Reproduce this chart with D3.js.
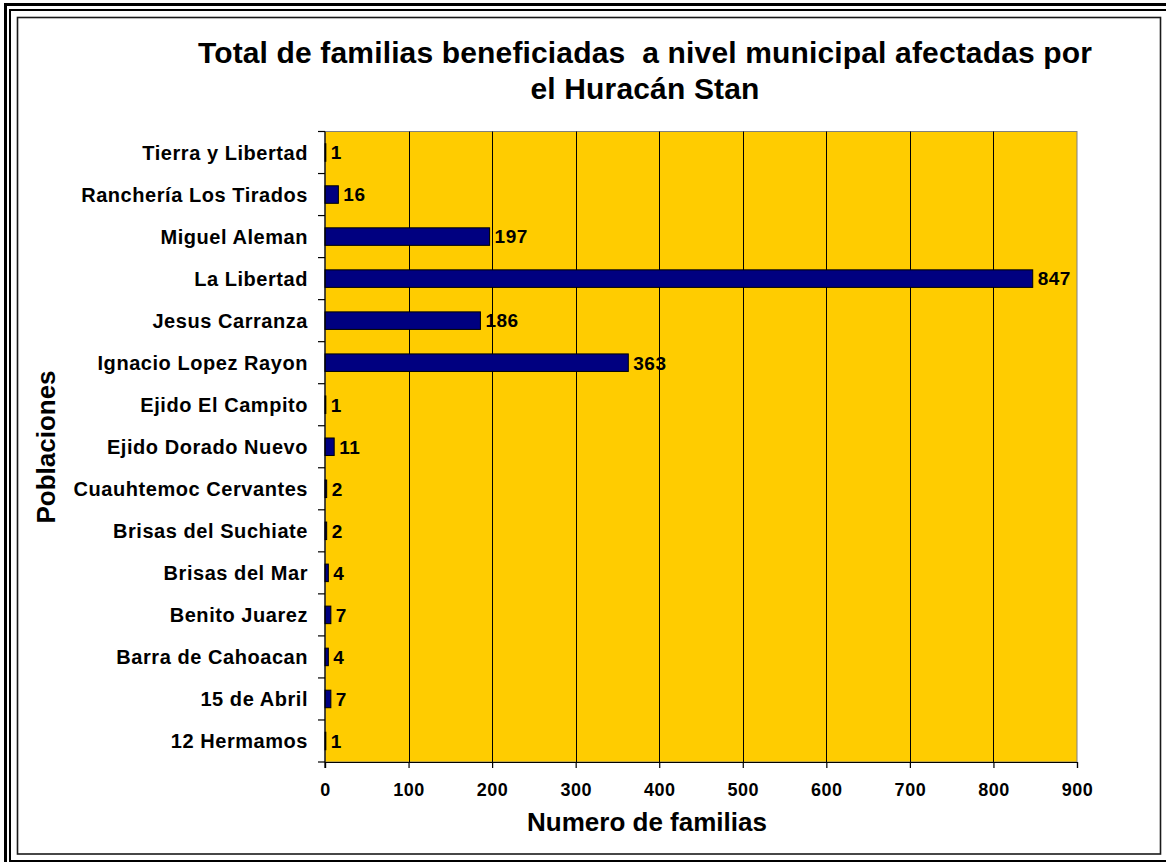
<!DOCTYPE html>
<html>
<head>
<meta charset="utf-8">
<script src="https://cdn.jsdelivr.net/npm/d3@7"></script>
<style>
  html, body { margin: 0; padding: 0; background: #fff; }
  svg { display: block; font-family: "Liberation Sans", Arial, sans-serif; font-weight: bold; }
  .title { white-space: pre; }
</style>
</head>
<body>
<svg id="chart" width="1166" height="862"></svg>
<script>
// Poblaciones, listed top to bottom
const poblaciones = [
  "Tierra y Libertad",
  "Ranchería Los Tirados",
  "Miguel Aleman",
  "La Libertad",
  "Jesus Carranza",
  "Ignacio Lopez Rayon",
  "Ejido El Campito",
  "Ejido Dorado Nuevo",
  "Cuauhtemoc Cervantes",
  "Brisas del Suchiate",
  "Brisas del Mar",
  "Benito Juarez",
  "Barra de Cahoacan",
  "15 de Abril",
  "12 Hermamos"
];
// Familias beneficiadas por población
const familias = [1, 16, 197, 847, 186, 363, 1, 11, 2, 2, 4, 7, 4, 7, 1];
// Valores del eje horizontal
const xTicks = [0, 100, 200, 300, 400, 500, 600, 700, 800, 900];
const titleLines = [
  "Total de familias beneficiadas  a nivel municipal afectadas por",
  "el Huracán Stan"
];
const xTitle = "Numero de familias";
const yTitle = "Poblaciones";

const svg = d3.select("#chart");

// Marcos exteriores (doble línea) y marco del gráfico
svg.append("rect").attr("x", 5.5).attr("y", 4.5).attr("width", 1200).attr("height", 900)
  .attr("fill", "none").attr("stroke", "#000").attr("stroke-width", 3);
svg.append("rect").attr("x", 10).attr("y", 10).attr("width", 1200).attr("height", 851)
  .attr("fill", "none").attr("stroke", "#000").attr("stroke-width", 2);
svg.append("rect").attr("x", 17.5).attr("y", 17.5).attr("width", 1143).attr("height", 836.5)
  .attr("fill", "#fff").attr("stroke", "#1a1a1a").attr("stroke-width", 1.6);

const plot = { left: 325, right: 1077, top: 131.5, bottom: 762 };

const x = d3.scaleLinear().domain([0, 900]).range([plot.left, plot.right]);
const y = d3.scaleBand().domain(poblaciones).range([plot.top, plot.bottom])
  .paddingInner(0.583).paddingOuter(0.2915);
const yEdges = d3.scaleLinear().domain([0, poblaciones.length]).range([plot.top, plot.bottom]);

// Área de trazado
svg.append("rect")
  .attr("x", plot.left).attr("y", plot.top)
  .attr("width", plot.right - plot.left).attr("height", plot.bottom - plot.top)
  .attr("fill", "#FFCC00").attr("stroke", "#808080").attr("stroke-width", 1);

// Líneas de división verticales
svg.append("g")
  .selectAll("line")
  .data(xTicks.filter(v => v > 0 && v < 900))
  .join("line")
  .attr("x1", d => Math.round(x(d)) + 0.5).attr("x2", d => Math.round(x(d)) + 0.5)
  .attr("y1", plot.top).attr("y2", plot.bottom)
  .attr("stroke", "#000").attr("stroke-width", 1);

// Barras
svg.append("g")
  .selectAll("rect")
  .data(poblaciones)
  .join("rect")
  .attr("x", x(0))
  .attr("y", d => y(d))
  .attr("width", (d, i) => x(familias[i]) - x(0))
  .attr("height", y.bandwidth())
  .attr("fill", "#000080")
  .attr("stroke", "#000")
  .attr("stroke-width", 1);

// Etiquetas de valores
svg.append("g")
  .selectAll("text")
  .data(poblaciones)
  .join("text")
  .attr("x", (d, i) => x(familias[i]) + 5)
  .attr("y", d => y(d) + y.bandwidth() / 2)
  .attr("dy", "0.36em")
  .attr("font-size", 19)
  .attr("letter-spacing", 0.5)
  .attr("fill", "#000")
  .text((d, i) => familias[i]);

// Eje horizontal
const xAxis = svg.append("g")
  .attr("transform", `translate(0,${plot.bottom})`)
  .call(d3.axisBottom(x).tickValues(xTicks).tickSize(6).tickPadding(0).tickFormat(d3.format("d")));
xAxis.select(".domain").attr("stroke", "#000").attr("stroke-width", 1.2);
xAxis.selectAll(".tick line").attr("stroke", "#000").attr("stroke-width", 1.2);
xAxis.selectAll(".tick text")
  .attr("y", 34).attr("dy", 0)
  .attr("font-family", "'Liberation Sans', Arial, sans-serif")
  .attr("font-weight", "bold").attr("font-size", 18).attr("letter-spacing", 0.5)
  .attr("fill", "#000");

// Eje vertical: línea y marcas en los límites de cada categoría
const yAxis = svg.append("g");
yAxis.append("line")
  .attr("x1", plot.left).attr("x2", plot.left)
  .attr("y1", plot.top).attr("y2", plot.bottom + 6)
  .attr("stroke", "#000").attr("stroke-width", 1.2);
yAxis.selectAll("line.tk")
  .data(d3.range(poblaciones.length + 1))
  .join("line").attr("class", "tk")
  .attr("x1", plot.left - 7).attr("x2", plot.left)
  .attr("y1", d => yEdges(d)).attr("y2", d => yEdges(d))
  .attr("stroke", "#000").attr("stroke-width", 1.2);
yAxis.selectAll("text")
  .data(poblaciones)
  .join("text")
  .attr("x", 308)
  .attr("y", d => y(d) + y.bandwidth() / 2)
  .attr("dy", "0.36em")
  .attr("text-anchor", "end")
  .attr("font-size", 20)
  .attr("letter-spacing", 0.55)
  .attr("fill", "#000")
  .text(d => d);

// Título
svg.append("g")
  .selectAll("text")
  .data(titleLines)
  .join("text")
  .attr("class", "title")
  .attr("x", 645)
  .attr("y", (d, i) => 63 + i * 36)
  .attr("text-anchor", "middle")
  .attr("font-size", 30)
  .attr("letter-spacing", 0.15)
  .attr("fill", "#000")
  .text(d => d);

// Títulos de ejes
svg.append("text")
  .attr("x", 647).attr("y", 831)
  .attr("text-anchor", "middle")
  .attr("font-size", 26)
  .attr("fill", "#000")
  .text(xTitle);

svg.append("text")
  .attr("transform", "translate(55,447) rotate(-90)")
  .attr("text-anchor", "middle")
  .attr("font-size", 26)
  .attr("fill", "#000")
  .text(yTitle);
</script>
</body>
</html>
